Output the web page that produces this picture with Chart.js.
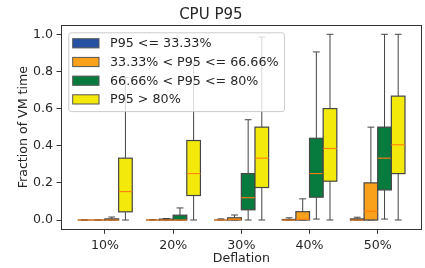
<!DOCTYPE html>
<html><head><meta charset="utf-8">
<script src="https://cdn.jsdelivr.net/npm/chart.js@4.4.1/dist/chart.umd.min.js"></script>
<style>html,body{margin:0;padding:0;background:#fff;}#wrap{width:425px;height:268px;}</style>
</head><body><div id="wrap"><canvas id="c" width="425" height="268"></canvas></div>
<script>
// ---- data ----
const categories = ['10%', '20%', '30%', '40%', '50%'];
const seriesLabels = ['P95 <= 33.33%', '33.33% < P95 <= 66.66%', '66.66% < P95 <= 80%', 'P95 > 80%'];
const seriesColors = ['#2751a3', '#f9a11b', '#077a3d', '#f3ea0c'];
// each entry: [whiskerLow, q1, median, q3, whiskerHigh]
const lowP95 = [[0,0,0,0,0],[0,0,0,0,0.002],[0,0,0,0,0.006],[0,0,0,0.003,0.012],[0,0,0,0.006,0.015]];
const midP95 = [[0,0,0,0,0],[0,0,0,0.005,0.008],[0,0,0.002,0.012,0.027],[0,0,0.004,0.045,0.114],[0,0,0.047,0.2,0.5]];
const highP95 = [[0,0,0,0.006,0.016],[0,0,0,0.026,0.065],[0,0.055,0.12,0.25,0.54],[0.005,0.123,0.25,0.44,0.905],[0.005,0.162,0.333,0.5,1.0]];
const topP95 = [[0,0.044,0.153,0.333,0.766],[0,0.132,0.25,0.428,0.845],[0,0.175,0.333,0.5,0.985],[0,0.209,0.385,0.6,1.0],[0,0.25,0.405,0.667,1.0]];
const yTickValues = [0, 0.2, 0.4, 0.6, 0.8, 1.0];

const allStats = [lowP95, midP95, highP95, topP95];
const nSeries = allStats.length;
const boxW = 0.8 / nSeries;
const offsetOf = s => (s - (nSeries - 1) / 2) * boxW;

const FONT = "'DejaVu Sans', sans-serif";
const TEXT = '#262626';
const LINE = '#444444';
const EDGE = '#464646';
const MEDIAN = '#ff7f0e';

const datasets = allStats.map((stats, s) => ({
  label: seriesLabels[s],
  backgroundColor: seriesColors[s],
  borderColor: EDGE,
  stats: stats,
  seriesIndex: s,
  pointRadius: 0,
  data: stats.map((st, i) => ({x: i + offsetOf(s), y: st[2]}))
}));

const boxPlugin = {
  id: 'boxes',
  afterDatasetsDraw(chart) {
    const ctx = chart.ctx, xs = chart.scales.x, ys = chart.scales.y;
    ctx.save();
    chart.data.datasets.forEach(ds => {
      const s = ds.seriesIndex;
      ds.stats.forEach((st, i) => {
        const c = i + offsetOf(s);
        const xl = xs.getPixelForValue(c - boxW / 2), xr = xs.getPixelForValue(c + boxW / 2);
        const xc = xs.getPixelForValue(c);
        const capL = xs.getPixelForValue(c - boxW / 4), capR = xs.getPixelForValue(c + boxW / 4);
        const [lo, q1, med, q3, hi] = st.map(v => ys.getPixelForValue(v));
        // whiskers
        ctx.strokeStyle = LINE; ctx.lineWidth = 1;
        ctx.beginPath();
        ctx.moveTo(xc, q1); ctx.lineTo(xc, lo);
        ctx.moveTo(xc, q3); ctx.lineTo(xc, hi);
        ctx.moveTo(capL, lo); ctx.lineTo(capR, lo);
        ctx.moveTo(capL, hi); ctx.lineTo(capR, hi);
        ctx.stroke();
        // box
        ctx.fillStyle = ds.backgroundColor;
        ctx.fillRect(xl, q3, xr - xl, q1 - q3);
        ctx.strokeStyle = EDGE; ctx.lineWidth = 1.2;
        ctx.strokeRect(xl, q3, xr - xl, q1 - q3);
        // median
        ctx.strokeStyle = MEDIAN; ctx.lineWidth = 1.1;
        ctx.beginPath(); ctx.moveTo(xl, med); ctx.lineTo(xr, med); ctx.stroke();
      });
    });
    // frame
    const a = chart.chartArea;
    ctx.strokeStyle = '#333333'; ctx.lineWidth = 1;
    ctx.strokeRect(Math.round(a.left) + 0.5, Math.round(a.top) + 0.5, Math.round(a.right - a.left) - 1, Math.round(a.bottom - a.top));
    ctx.restore();
  },
  afterDraw(chart) {
    // legend inside the axes, upper left
    const ctx = chart.ctx, a = chart.chartArea;
    ctx.save();
    ctx.font = '12.7px ' + FONT;
    const rowH = 18.7, padX = 4.4, patchW = 26.3, patchH = 9.2, gap = 11;
    const textW = Math.max(...chart.data.datasets.map(d => ctx.measureText(d.label).width));
    const fx = a.left + 7.3, fy = a.top + 7.3;
    const fw = padX + patchW + gap + textW + 5.5;
    const fh = rowH * chart.data.datasets.length + 4;
    ctx.beginPath();
    if (ctx.roundRect) ctx.roundRect(fx + 0.5, fy + 0.5, fw, fh, 2.5); else ctx.rect(fx + 0.5, fy + 0.5, fw, fh);
    ctx.fillStyle = 'rgba(255,255,255,0.8)';
    ctx.fill();
    ctx.strokeStyle = '#cccccc'; ctx.lineWidth = 1; ctx.stroke();
    chart.data.datasets.forEach((d, k) => {
      const cy = fy + 11 + k * rowH;
      ctx.fillStyle = d.backgroundColor;
      ctx.fillRect(fx + padX, cy - patchH / 2, patchW, patchH);
      ctx.strokeStyle = '#555555'; ctx.lineWidth = 1;
      ctx.strokeRect(fx + padX, cy - patchH / 2, patchW, patchH);
      ctx.fillStyle = TEXT;
      ctx.textBaseline = 'middle';
      ctx.fillText(d.label, fx + padX + patchW + gap, cy + 0.5);
    });
    ctx.restore();
  }
};

new Chart(document.getElementById('c'), {
  type: 'scatter',
  data: {datasets},
  plugins: [boxPlugin],
  options: {
    responsive: false,
    animation: false,
    devicePixelRatio: 1,
    layout: {padding: {left: 0, right: 3.3, top: 0, bottom: 0}},
    plugins: {
      legend: {display: false},
      tooltip: {enabled: false},
      title: {display: true, text: 'CPU P95', color: TEXT,
        font: {family: FONT, size: 15, weight: 'normal'}, padding: {top: 6.5, bottom: 0.5}}
    },
    scales: {
      x: {
        type: 'linear', min: -0.645, max: 4.645,
        afterBuildTicks: sc => { sc.ticks = categories.map((c, i) => ({value: i})); },
        afterFit: sc => { sc.height = 38.7; },
        ticks: {callback: v => categories[v], color: TEXT, font: {family: FONT, size: 12.6}, padding: 4, maxRotation: 0, autoSkip: false},
        grid: {drawOnChartArea: false, drawTicks: true, tickLength: 4.5, color: '#333333'},
        border: {display: false},
        title: {display: true, text: 'Deflation', color: TEXT, font: {family: FONT, size: 12.6}, padding: {top: 0, bottom: 1.3}}
      },
      y: {
        type: 'linear', min: -0.05, max: 1.05,
        afterBuildTicks: sc => { sc.ticks = yTickValues.map(v => ({value: v})); },
        afterFit: sc => { sc.width = 61; },
        ticks: {callback: v => v.toFixed(1), color: TEXT, font: {family: FONT, size: 12.6}, padding: 3.5},
        grid: {drawOnChartArea: false, drawTicks: true, tickLength: 4.5, color: '#333333'},
        border: {display: false},
        title: {display: true, text: 'Fraction of VM time', color: TEXT, font: {family: FONT, size: 12.6}, padding: {top: 16.4, bottom: 0}}
      }
    }
  }
});
</script></body></html>
